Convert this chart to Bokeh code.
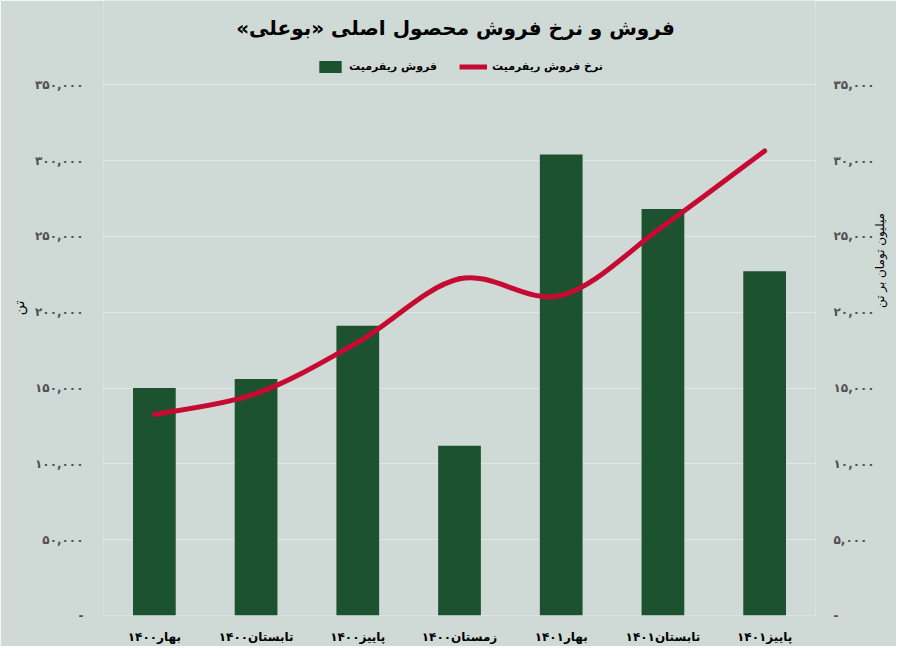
import math
from bokeh.plotting import figure
from bokeh.models import (Range1d, LinearAxis, FixedTicker, Legend, LegendItem,
                          ColumnDataSource, Label)
from bokeh.embed import file_html
from bokeh.resources import INLINE

# ---------------- data ----------------
categories = ["بهار۱۴۰۰", "تابستان۱۴۰۰", "پاییز۱۴۰۰", "زمستان۱۴۰۰",
              "بهار۱۴۰۱", "تابستان۱۴۰۱", "پاییز۱۴۰۱"]
sales_tons = [150000, 156000, 191000, 112000, 304000, 268000, 227000]
rate_mtoman = [13260, 14630, 18020, 22200, 21100, 25660, 30630]

left_ticks = [0, 50000, 100000, 150000, 200000, 250000, 300000, 350000]
left_tick_labels = ["-", "۵۰,۰۰۰", "۱۰۰,۰۰۰", "۱۵۰,۰۰۰", "۲۰۰,۰۰۰",
                    "۲۵۰,۰۰۰", "۳۰۰,۰۰۰", "۳۵۰,۰۰۰"]
right_ticks = [0, 5000, 10000, 15000, 20000, 25000, 30000, 35000]
right_tick_labels = ["-", "۵,۰۰۰", "۱۰,۰۰۰", "۱۵,۰۰۰", "۲۰,۰۰۰",
                     "۲۵,۰۰۰", "۳۰,۰۰۰", "۳۵,۰۰۰"]

title_text = "فروش و نرخ فروش محصول اصلی «بوعلی»\u200f"
bar_label = "فروش ریفرمیت"
line_label = "نرخ فروش ریفرمیت"
left_axis_label = "تن"
right_axis_label = "میلیون تومان بر تن"

# ---------------- style ----------------
BG = "#cfd9d6"
GRID = "#e1e7e5"
GREEN = "#1d5230"
RED = "#c70a32"
FONT = "DejaVu Sans"

n = len(categories)
xs = [i + 0.5 for i in range(n)]

# the frame reaches the top of the canvas so the title and legend can sit
# inside it; the axis tops (350,000 / 35,000) land 85px below the canvas top
FRAME_H = 621
AXIS_H = 536
left_max = left_ticks[-1]
right_max = right_ticks[-1]

p = figure(width=896, height=646, output_backend="svg", toolbar_location=None,
           title_location=None,
           x_range=Range1d(0, n),
           y_range=Range1d(0, left_max * FRAME_H / AXIS_H),
           min_border_left=103, min_border_right=78, min_border_top=0,
           min_border_bottom=25)
p.background_fill_color = BG
p.border_fill_color = BG
p.outline_line_color = None

p.extra_y_ranges = {"rate": Range1d(0, right_max * FRAME_H / AXIS_H)}

src = ColumnDataSource(dict(x=xs, sales=sales_tons, rate=rate_mtoman))
bars = p.vbar(x="x", top="sales", width=0.42, source=src, fill_color=GREEN,
              line_color=None)

# smooth curve (Catmull-Rom -> cubic Bezier) through the rate points
x0, y0, x1, y1, cx0, cy0, cx1, cy1 = [], [], [], [], [], [], [], []
for i in range(n - 1):
    pa = (xs[max(i - 1, 0)], rate_mtoman[max(i - 1, 0)])
    pb = (xs[i], rate_mtoman[i])
    pc = (xs[i + 1], rate_mtoman[i + 1])
    pd = (xs[min(i + 2, n - 1)], rate_mtoman[min(i + 2, n - 1)])
    x0.append(pb[0]); y0.append(pb[1]); x1.append(pc[0]); y1.append(pc[1])
    cx0.append(pb[0] + (pc[0] - pa[0]) / 6); cy0.append(pb[1] + (pc[1] - pa[1]) / 6)
    cx1.append(pc[0] - (pd[0] - pb[0]) / 6); cy1.append(pc[1] - (pd[1] - pb[1]) / 6)
bsrc = ColumnDataSource(dict(x0=x0, y0=y0, x1=x1, y1=y1, cx0=cx0, cy0=cy0,
                             cx1=cx1, cy1=cy1))
p.bezier(x0="x0", y0="y0", x1="x1", y1="y1", cx0="cx0", cy0="cy0", cx1="cx1",
         cy1="cy1", source=bsrc, line_color=RED, line_width=5,
         line_cap="round", y_range_name="rate")
# single-point line renderer (draws nothing) used as the legend swatch
leg_line = p.line(x=[xs[0]], y=[rate_mtoman[0]], line_color=RED, line_width=5,
                  y_range_name="rate")

# axes
p.xaxis.ticker = FixedTicker(ticks=xs)
p.xaxis.major_label_overrides = {x: c for x, c in zip(xs, categories)}
p.xaxis.major_label_text_font = FONT
p.xaxis.major_label_text_font_size = "12px"
p.xaxis.major_label_text_font_style = "bold"
p.xaxis.major_label_text_color = "#000000"
p.xaxis.major_label_standoff = 8
p.xaxis.axis_line_color = None
p.xaxis.major_tick_line_color = None
p.xaxis.minor_tick_line_color = None

yl = p.yaxis[0]
yl.ticker = FixedTicker(ticks=left_ticks)
yl.major_label_overrides = {t: l for t, l in zip(left_ticks, left_tick_labels)}
yl.axis_label = left_axis_label
yr = LinearAxis(y_range_name="rate",
                ticker=FixedTicker(ticks=right_ticks),
                major_label_overrides={t: l for t, l in zip(right_ticks, right_tick_labels)},
                axis_label=right_axis_label)
p.add_layout(yr, "right")
for ax, so in ((yl, 14), (yr, 12)):
    ax.major_label_text_font = FONT
    ax.major_label_text_font_size = "12px"
    ax.major_label_text_font_style = "bold"
    ax.major_label_text_color = "#505050"
    ax.major_label_standoff = so
    ax.axis_line_color = None
    ax.major_tick_line_color = None
    ax.minor_tick_line_color = None
    ax.axis_label_text_font = FONT
    ax.axis_label_text_font_style = "normal"
    ax.axis_label_text_color = "#000000"
yl.axis_label_text_font_size = "14px"
yl.axis_label_standoff = 5
yr.axis_label_text_font_size = "12px"
yr.axis_label_standoff = 2
# right-hand title reads bottom-to-top like the left one
if "axis_label_orientation" in yr.properties():
    yr.axis_label_orientation = math.pi / 2

p.xgrid.grid_line_color = None
p.ygrid.grid_line_color = GRID
p.ygrid.grid_line_width = 1.2
p.ygrid.ticker = FixedTicker(ticks=left_ticks)

# title as a screen-positioned label (relative to the frame's bottom-left)
p.add_layout(Label(x=352, y=588, x_units="screen", y_units="screen",
                   text=title_text, text_align="center", text_baseline="middle",
                   text_font=FONT, text_font_size="20px", text_font_style="bold",
                   text_color="#000000"))

legend = Legend(items=[LegendItem(label=bar_label, renderers=[bars]),
                       LegendItem(label=line_label, renderers=[leg_line])],
                orientation="horizontal", location=(213, 541),
                background_fill_alpha=0, border_line_color=None,
                label_text_font=FONT, label_text_font_size="11px",
                label_text_font_style="bold", label_text_color="#000000",
                glyph_width=28, glyph_height=15, label_standoff=5, spacing=22,
                padding=4, margin=0)
p.add_layout(legend, "center")

open("out.html", "w").write(file_html(p, INLINE))
